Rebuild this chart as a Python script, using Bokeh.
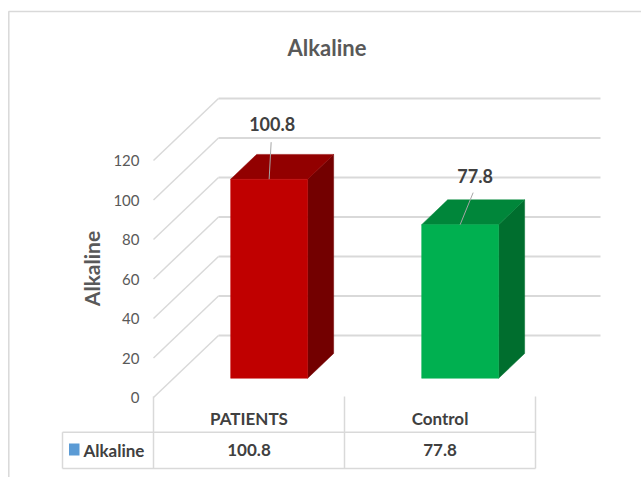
import math

from bokeh.core.properties import value
from bokeh.embed import file_html
from bokeh.models import Range1d
from bokeh.plotting import figure
from bokeh.resources import INLINE

# ---- data -------------------------------------------------------------
CATEGORIES = ["PATIENTS", "Control"]
ALKALINE = [100.8, 77.8]
SERIES_NAME = "Alkaline"
Y_TICKS = [0, 20, 40, 60, 80, 100, 120]
TICK_LABELS = ["0", "20", "40", "60", "80", "100", "120"]
VALUE_LABELS = ["100.8", "77.8"]

# ---- styling ----------------------------------------------------------
FRONT_COLORS = ["#C00000", "#00B050"]
TOP_COLORS = ["#920000", "#00863A"]
SIDE_COLORS = ["#730000", "#006E2E"]
GRID_COLOR = "#D9D9D9"
AXIS_TEXT = "#595959"
DARK_TEXT = "#404040"
LEGEND_BLUE = "#5B9BD5"
FONT = value("Lato")

# ---- layout (pixels) --------------------------------------------------
W, H = 641, 477
PX_PER_CAT = 191.0        # width of one category slot on the front plane
PX_PER_UNIT = 1.975       # vertical pixels per value unit
FLOOR_LEFT_PX = 153.0     # front-left corner of the floor
FLOOR_ZERO_PX = 397.0
DEPTH_PX = (65.0, 62.0)   # oblique shift from front to back wall
BAR_WIDTH = 0.403         # in category slots
BAR_FRONT, BAR_BACK = 0.31, 0.71   # bar depth as fractions of wall depth


def xd(px):
    """screen x -> data x (category units, first category at 0)"""
    return -0.5 + (px - FLOOR_LEFT_PX) / PX_PER_CAT


def yd(py):
    """screen y -> data value"""
    return (FLOOR_ZERO_PX - py) / PX_PER_UNIT


DX = DEPTH_PX[0] / PX_PER_CAT
DY = DEPTH_PX[1] / PX_PER_UNIT
X0, X1 = -0.5, len(CATEGORIES) - 0.5

p = figure(
    width=W, height=H,
    x_range=Range1d(xd(0), xd(W)), y_range=Range1d(yd(H), yd(0)),
    output_backend="svg", toolbar_location=None,
    x_axis_type=None, y_axis_type=None, min_border=0,
)
p.grid.visible = False
p.outline_line_color = None
p.background_fill_color = "white"
p.border_fill_color = "white"

# chart-area border (left and top edges)
p.line(x=[xd(8.3), xd(8.3), xd(W + 5)], y=[yd(H + 5), yd(11), yd(11)],
       line_color=GRID_COLOR, line_width=1.5)

# back-wall gridlines and side-wall diagonals
p.multi_line(xs=[[X0 + DX, X1 + DX] for _ in Y_TICKS],
             ys=[[t + DY, t + DY] for t in Y_TICKS],
             line_color=GRID_COLOR, line_width=1.8)
p.multi_line(xs=[[X0, X0 + DX] for _ in Y_TICKS],
             ys=[[t, t + DY] for t in Y_TICKS],
             line_color=GRID_COLOR, line_width=1.5)

# value-axis tick labels on the front plane
p.text(x=[X0 - 14 / PX_PER_CAT] * len(Y_TICKS), y=Y_TICKS, text=TICK_LABELS,
       text_font=FONT, text_font_size="15px", text_color=AXIS_TEXT,
       text_align="right", text_baseline="middle")

# 3D columns
half = BAR_WIDTH / 2
fx, fy = BAR_FRONT * DX, BAR_FRONT * DY
bx, by = BAR_BACK * DX, BAR_BACK * DY
for i, v in enumerate(ALKALINE):
    c = i
    # right side face
    p.patch(x=[c + half + fx, c + half + bx, c + half + bx, c + half + fx],
            y=[fy, by, v + by, v + fy],
            fill_color=SIDE_COLORS[i], line_color=SIDE_COLORS[i], line_width=0.5)
    # top face
    p.patch(x=[c - half + fx, c + half + fx, c + half + bx, c - half + bx],
            y=[v + fy, v + fy, v + by, v + by],
            fill_color=TOP_COLORS[i], line_color=TOP_COLORS[i], line_width=0.5)
    # front face
    p.quad(left=c - half + fx, right=c + half + fx, bottom=fy, top=v + fy,
           fill_color=FRONT_COLORS[i], line_color=FRONT_COLORS[i], line_width=0.5)

# data labels with leader lines (offsets in pixels from the front-top centre)
LABEL_OFFSETS = [(3, -55), (15, -49)]
LEADER_START = [(-1, 18), (-2, 17)]
for i, v in enumerate(ALKALINE):
    ax, ay = i + fx, v + fy
    lx = ax + LABEL_OFFSETS[i][0] / PX_PER_CAT
    ly = ay - LABEL_OFFSETS[i][1] / PX_PER_UNIT
    sx = lx + LEADER_START[i][0] / PX_PER_CAT
    sy = ly - LEADER_START[i][1] / PX_PER_UNIT
    p.line(x=[sx, ax], y=[sy, ay], line_color="#A6A6A6", line_width=1)
    p.text(x=[lx], y=[ly], text=[VALUE_LABELS[i]],
           text_font=FONT, text_font_size="18px", text_font_style="bold",
           text_color=DARK_TEXT, text_align="center", text_baseline="middle")

# data table under the floor
row_top, row_mid, row_bot = yd(396), yd(431.7), yd(468)
table_left = xd(62)
cols = [X0 + k for k in range(len(CATEGORIES) + 1)]
p.multi_line(
    xs=[[c, c] for c in cols] + [[table_left, X1], [table_left, X1], [table_left, table_left]],
    ys=[[row_top, row_bot] for _ in cols] + [[row_mid, row_mid], [row_bot, row_bot], [row_mid, row_bot]],
    line_color=GRID_COLOR, line_width=1.5)
p.text(x=list(range(len(CATEGORIES))), y=[yd(418)] * len(CATEGORIES), text=CATEGORIES,
       text_font=FONT, text_font_size="17px", text_font_style="bold",
       text_color=DARK_TEXT, text_align="center", text_baseline="middle")
p.text(x=list(range(len(CATEGORIES))), y=[yd(449.5)] * len(CATEGORIES), text=VALUE_LABELS,
       text_font=FONT, text_font_size="17px", text_font_style="bold",
       text_color=DARK_TEXT, text_align="center", text_baseline="middle")
p.quad(left=xd(68.5), right=xd(79), bottom=yd(455), top=yd(443),
       fill_color=LEGEND_BLUE, line_color=None)
p.text(x=[xd(83)], y=[yd(449.5)], text=[SERIES_NAME],
       text_font=FONT, text_font_size="17px", text_font_style="bold",
       text_color=DARK_TEXT, text_align="left", text_baseline="middle")

# titles
p.text(x=[xd(326.5)], y=[yd(47)], text=[SERIES_NAME],
       text_font=FONT, text_font_size="22px", text_font_style="bold",
       text_color=AXIS_TEXT, text_align="center", text_baseline="middle")
p.text(x=[xd(90.5)], y=[yd(268)], text=[SERIES_NAME], angle=math.pi / 2,
       text_font=FONT, text_font_size="21px", text_font_style="bold",
       text_color=AXIS_TEXT, text_align="center", text_baseline="middle")

open("out.html", "w").write(file_html(p, INLINE))
